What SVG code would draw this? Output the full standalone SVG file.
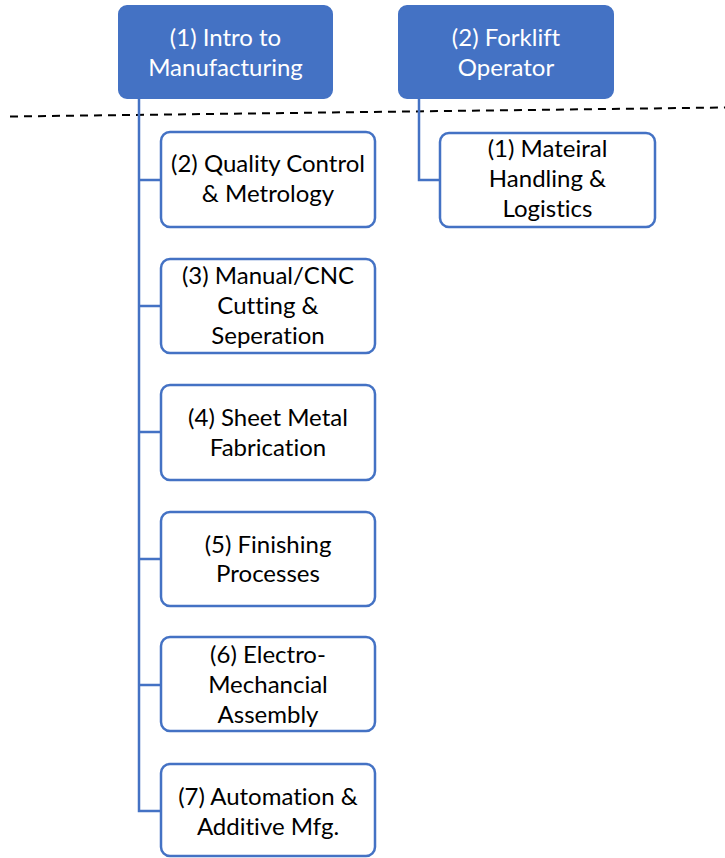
<svg xmlns="http://www.w3.org/2000/svg" width="725" height="858" viewBox="0 0 725 858">
<style>
.top{fill:#4472C4;stroke:#4472C4;stroke-width:2}
.child{fill:#fff;stroke:#4472C4;stroke-width:2.5}
.tw{fill:#fff;font-family:Lato,"Open Sans",sans-serif;font-size:24px;text-anchor:middle;font-variant-ligatures:none}
.tb{fill:#000;font-family:Lato,"Open Sans",sans-serif;font-size:24px;text-anchor:middle;font-variant-ligatures:none}
.conn{fill:none;stroke:#4472C4;stroke-width:2.5}
</style>
<rect width="725" height="858" fill="#fff"/>
<line x1="10" y1="116.5" x2="725" y2="107.5" stroke="#000" stroke-width="2" stroke-dasharray="8,6"/>
<g id="connectors">
<path class="conn" d="M139,98 V811 H161 M139,180 H161 M139,306 H161 M139,432 H161 M139,559 H161 M139,685 H161"/>
<path class="conn" d="M419,98 V180 H440"/>
</g>
<g id="n1"><rect class="top" x="119" y="6" width="213" height="92" rx="8"/><text class="tw" x="225.5" y="46">(1) Intro to</text><text class="tw" x="225.5" y="76">Manufacturing</text></g>
<g id="n2"><rect class="top" x="399" y="6" width="214" height="92" rx="8"/><text class="tw" x="506" y="46">(2) Forklift</text><text class="tw" x="506" y="76">Operator</text></g>
<g id="f1"><rect class="child" x="440" y="133" width="215" height="94" rx="9"/><text class="tb" x="547.5" y="157">(1) Mateiral</text><text class="tb" x="547.5" y="187">Handling &amp;</text><text class="tb" x="547.5" y="217">Logistics</text></g>
<g id="c2"><rect class="child" x="161" y="132" width="214" height="95" rx="9"/><text class="tb" x="268" y="172">(2) Quality Control</text><text class="tb" x="268" y="202">&amp; Metrology</text></g>
<g id="c3"><rect class="child" x="161" y="259" width="214" height="94" rx="9"/><text class="tb" x="268" y="284">(3) Manual/CNC</text><text class="tb" x="268" y="314">Cutting &amp;</text><text class="tb" x="268" y="344">Seperation</text></g>
<g id="c4"><rect class="child" x="161" y="385" width="214" height="95" rx="9"/><text class="tb" x="268" y="426">(4) Sheet Metal</text><text class="tb" x="268" y="456">Fabrication</text></g>
<g id="c5"><rect class="child" x="161" y="512" width="214" height="94" rx="9"/><text class="tb" x="268" y="553">(5) Finishing</text><text class="tb" x="268" y="582">Processes</text></g>
<g id="c6"><rect class="child" x="161" y="637" width="214" height="94" rx="9"/><text class="tb" x="268" y="663">(6) Electro-</text><text class="tb" x="268" y="693">Mechancial</text><text class="tb" x="268" y="723">Assembly</text></g>
<g id="c7"><rect class="child" x="161" y="764" width="214" height="92" rx="9"/><text class="tb" x="268" y="805">(7) Automation &amp;</text><text class="tb" x="268" y="835">Additive Mfg.</text></g>
</svg>
